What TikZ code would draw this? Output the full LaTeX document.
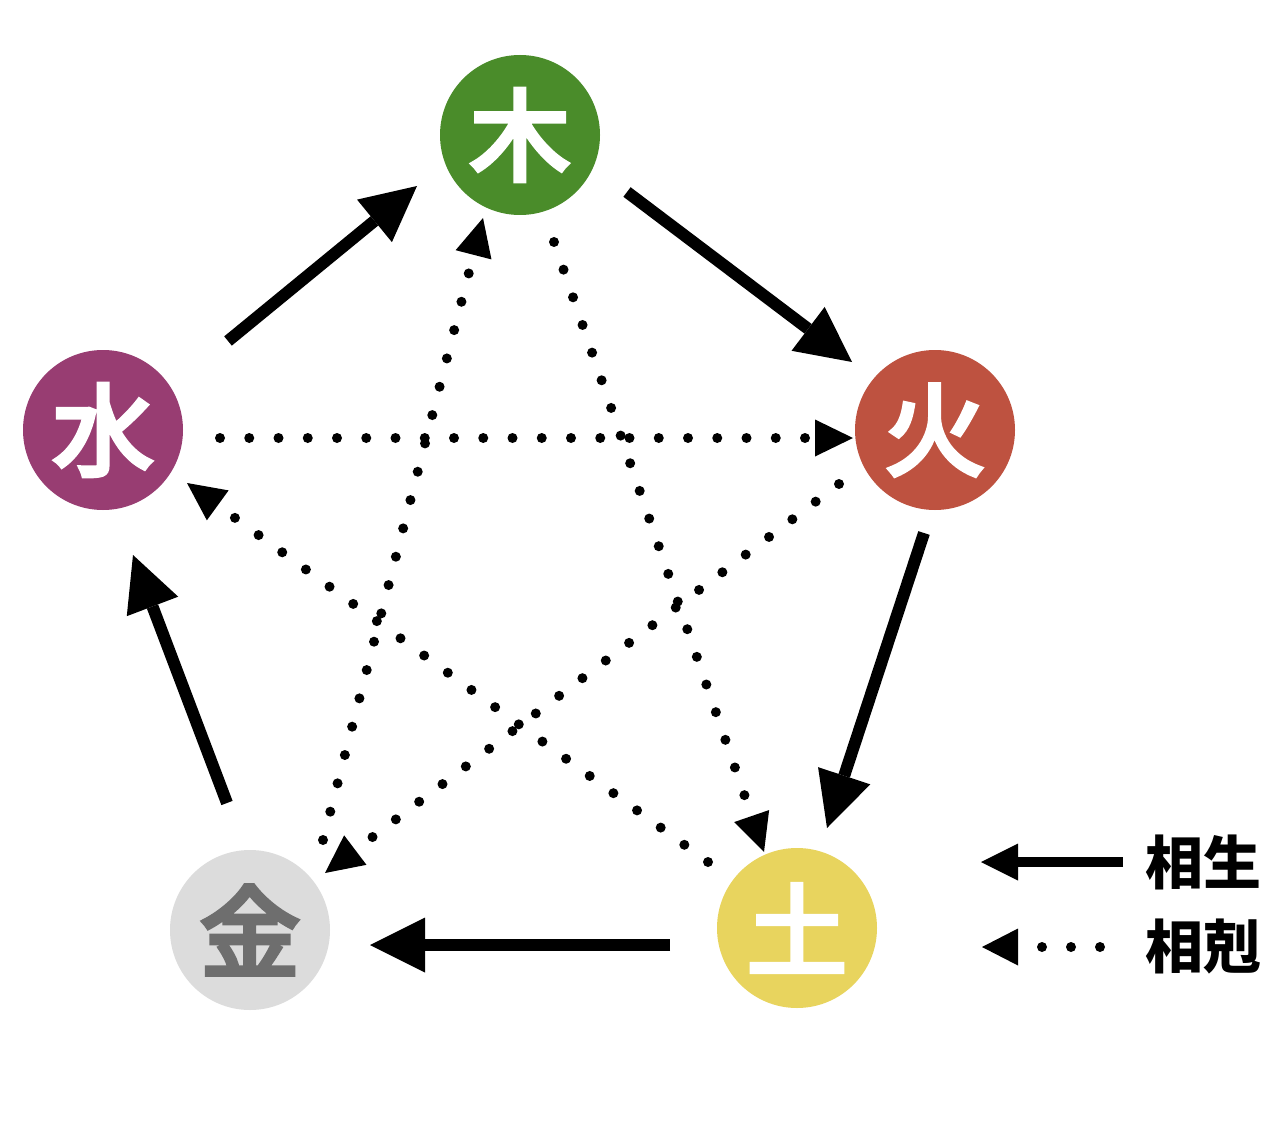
\documentclass[tikz,border=0pt]{standalone}
\usepackage{fontspec}
\usetikzlibrary{arrows.meta,calc}
\newfontfamily\sanscjk{Noto Sans CJK JP}
\newfontfamily\elemcjk{Noto Sans CJK JP}[FakeBold=5]
\definecolor{cmu}{HTML}{4A8C2A}
\definecolor{chuo}{HTML}{BE5240}
\definecolor{ctu}{HTML}{E8D45E}
\definecolor{cjin}{HTML}{DCDCDC}
\definecolor{cjintext}{HTML}{6E6E6E}
\definecolor{cshui}{HTML}{983D72}
\tikzset{
  elem/.style={circle, minimum size=160pt, inner sep=0pt, text=white,
    font=\elemcjk\fontsize{100}{100}\selectfont},
  shengarr/.style={line width=12pt, -{Triangle[length=55pt,width=55pt,line width=0pt]}},
  kearr/.style={line width=10pt, line cap=round, dash pattern=on 0pt off 29.25pt,
    -{Triangle[length=38pt,width=37pt,line width=0pt]}},
  legshengarr/.style={line width=10pt, -{Triangle[length=37pt,width=37pt,line width=0pt]}},
  legkearr/.style={line width=10pt, line cap=round, dash pattern=on 0pt off 29pt,
    -{Triangle[length=36pt,width=37pt,line width=0pt]}},
  legtext/.style={inner sep=0pt, font=\sanscjk\bfseries\fontsize{58}{58}\selectfont}
}
\begin{document}
\begin{tikzpicture}[x=1pt,y=-1pt]
\useasboundingbox[fill=white] (0,0) rectangle (1280,1134);
% elements
\node[elem, fill=cmu]   (mu)   at (520,135) {木};
\node[elem, fill=chuo]  (huo)  at (935,430) {火};
\node[elem, fill=ctu]   (tu)   at (797,928) {土};
\node[elem, fill=cjin, text=cjintext] (jin) at (250,930) {金};
\node[elem, fill=cshui] (shui) at (103,430) {水};
% generating cycle
\draw[shengarr] ($(shui)+(125,-89)$) -- ($(mu)+(-103,51)$);
\draw[shengarr] ($(mu)+(107,57)$) -- ($(huo)+(-83,-68)$);
\draw[shengarr] ($(huo)+(-11,103)$) -- ($(tu)+(30,-100)$);
\draw[shengarr] ($(tu)+(-127,17)$) -- ($(jin)+(120,15)$);
\draw[shengarr] ($(jin)+(-23,-127)$) -- ($(shui)+(30,125)$);
% overcoming cycle
\draw[kearr] ($(shui)+(117,8)$) -- ($(huo)+(-82,8)$);
\draw[kearr] ($(mu)+(34,107)$) -- ($(tu)+(-33,-76)$);
\draw[kearr] ($(huo)+(-96,54)$) -- ($(jin)+(75,-57)$);
\draw[kearr] ($(tu)+(-89,-66)$) -- ($(shui)+(84,53)$);
\draw[kearr] ($(jin)+(73,-90)$) -- ($(mu)+(-37,83)$);
% legend
\coordinate (l1s) at (1123,862);
\coordinate (l1e) at (981,862);
\coordinate (l2s) at (1100,947);
\coordinate (l2e) at (982,947);
\draw[legshengarr] (l1s) -- (l1e);
\draw[legkearr] (l2s) -- (l2e);
\node[legtext] (sheng) at (1203,862) {相生};
\node[legtext] (ke) at (1203,947) {相剋};
\end{tikzpicture}
\end{document}
